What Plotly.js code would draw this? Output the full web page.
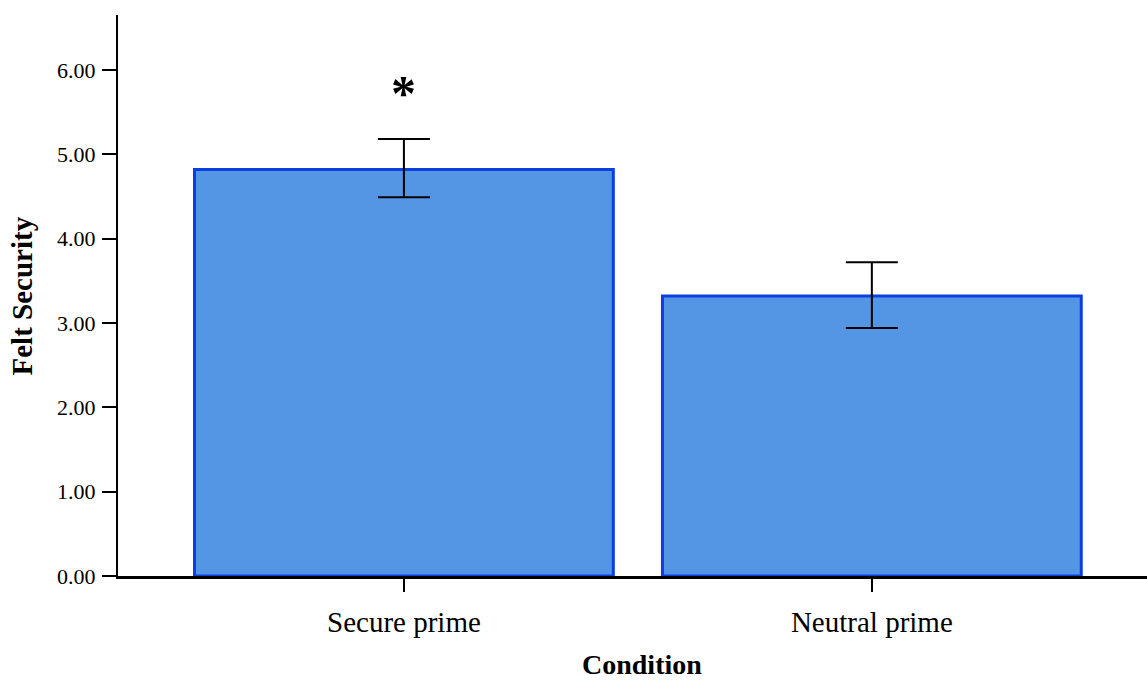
<!DOCTYPE html>
<html>
<head>
<meta charset="utf-8">
<script src="https://cdn.plot.ly/plotly-3.0.1.min.js"></script>
<style>html,body{margin:0;padding:0;background:#fff;}#chart{width:1147px;height:684px;}</style>
</head>
<body>
<div id="chart"></div>
<script>
const categories = ["Secure prime", "Neutral prime"];
const means = [4.82, 3.32];
const errUpper = [0.36, 0.40];
const errLower = [0.33, 0.38];
const yTickVals = [0, 1, 2, 3, 4, 5, 6];
const yTickText = ["0.00", "1.00", "2.00", "3.00", "4.00", "5.00", "6.00"];
const sigMarks = ["*", ""];
const sigY = [5.72, null];
const xTitle = "Condition";
const yTitle = "Felt Security";

const serif = "Liberation Serif, Times New Roman, serif";

const trace = {
  type: "bar",
  x: [0, 1],
  y: means,
  width: 0.895,
  marker: { color: "#5596E4", line: { color: "#0b3fe0", width: 3 } },
  error_y: {
    type: "data", symmetric: false,
    array: errUpper, arrayminus: errLower,
    color: "#000", thickness: 2, width: 26
  },
  hoverinfo: "none"
};

const annotations = [];
sigMarks.forEach((m, i) => {
  if (m) annotations.push({
    x: i, y: sigY[i], xref: "x", yref: "y", text: "<b>" + m + "</b>", showarrow: false,
    font: { family: serif, size: 50, color: "#000" }, yanchor: "middle"
  });
});
annotations.push({
  xref: "paper", yref: "paper", x: 0.509, y: -0.189, text: "<b>" + xTitle + "</b>",
  showarrow: false, xanchor: "center", yanchor: "bottom",
  font: { family: serif, size: 28, color: "#000" }
});
annotations.push({
  xref: "paper", yref: "paper", x: -0.0933, y: 0.50, text: "<b>" + yTitle + "</b>",
  showarrow: false, xanchor: "center", yanchor: "middle", textangle: -90,
  font: { family: serif, size: 29, color: "#000" }
});

const layout = {
  width: 1147, height: 684,
  margin: { l: 118, r: 0, t: 15, b: 108 },
  paper_bgcolor: "#fff", plot_bgcolor: "#fff",
  showlegend: false,
  font: { family: serif, color: "#000" },
  xaxis: {
    range: [-0.611, 1.588],
    tickvals: [0, 1], ticktext: categories,
    tickfont: { family: serif, size: 29, color: "#000" },
    ticks: "outside", ticklen: 13, tickwidth: 1.5, tickcolor: "#000",
    ticklabelstandoff: 6,
    showline: true, linecolor: "#000", linewidth: 2.5,
    showgrid: false, zeroline: false
  },
  yaxis: {
    range: [0, 6.65],
    tickvals: yTickVals, ticktext: yTickText,
    tickfont: { family: serif, size: 22, color: "#000" },
    ticks: "outside", ticklen: 14, tickwidth: 2, tickcolor: "#000",
    ticklabelstandoff: 2,
    showline: true, linecolor: "#000", linewidth: 2,
    showgrid: false, zeroline: false
  },
  annotations: annotations
};

Plotly.newPlot("chart", [trace], layout, { displayModeBar: false, staticPlot: true });
</script>
</body>
</html>
